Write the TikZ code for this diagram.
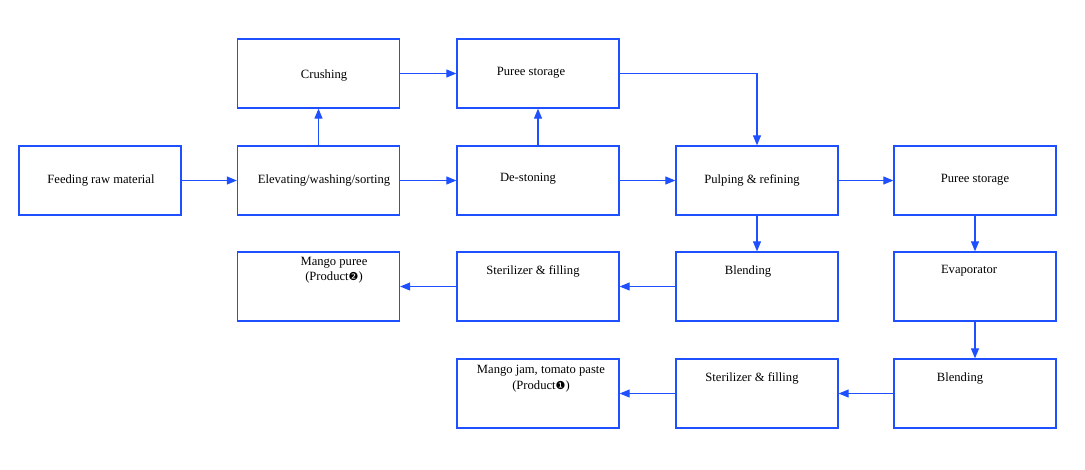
\documentclass[tikz,border=0pt]{standalone}
\usepackage{fontspec}
\setmainfont{Liberation Serif}
\newfontfamily\dingfont{DejaVu Sans}
\usetikzlibrary{arrows.meta}
\definecolor{flowblue}{RGB}{30,80,255}
\begin{document}
\begin{tikzpicture}[x=1pt,y=-1pt,
  box/.style={draw=flowblue,line width=1.3pt,minimum width=162pt,minimum height=69pt,inner sep=0pt,anchor=center},
  lbl/.style={font=\fontsize{12.6}{15.5}\selectfont,inner sep=0pt,align=center},
  flow/.style={draw=flowblue,line width=1.1pt,-{Triangle[length=10pt,width=8pt]}}]
\useasboundingbox (0,0) rectangle (1085,469);
% boxes
\node[box] (feed) at (100,180.5) {};
\node[box] (elev) at (318.5,180.5) {};
\node[box] (crush) at (318.5,73.5) {};
\node[box] (ps1) at (538,73.5) {};
\node[box] (dest) at (538,180.5) {};
\node[box] (pulp) at (757,180.5) {};
\node[box] (ps2) at (975,180.5) {};
\node[box] (mp) at (318.5,286.5) {};
\node[box] (ster1) at (538,286.5) {};
\node[box] (blend1) at (757,286.5) {};
\node[box] (evap) at (975,286.5) {};
\node[box] (mj) at (538,393.5) {};
\node[box] (ster2) at (757,393.5) {};
\node[box] (blend2) at (975,393.5) {};
% labels
\node[lbl] (tfeed) at (101,180) {Feeding raw material};
\node[lbl] (telev) at (324,180) {Elevating/washing/sorting};
\node[lbl] (tcrush) at (324,75) {Crushing};
\node[lbl] (tps1) at (531,73) {Puree storage};
\node[lbl] (tdest) at (528,179) {De-stoning};
\node[lbl] (tpulp) at (752,180) {Pulping \& refining};
\node[lbl] (tps2) at (975,180) {Puree storage};
\node[lbl,anchor=north] (tmp) at (334,257) {Mango puree\\(Product{\dingfont\fontsize{11}{13}\selectfont ❷})};
\node[lbl] (tster1) at (533,271) {Sterilizer \& filling};
\node[lbl] (tblend1) at (748,271) {Blending};
\node[lbl] (tevap) at (969,271) {Evaporator};
\node[lbl,anchor=north] (tmj) at (541,365) {Mango jam, tomato paste\\(Product{\dingfont\fontsize{11}{13}\selectfont ❶})};
\node[lbl] (tster2) at (752,378) {Sterilizer \& filling};
\node[lbl] (tblend2) at (960,378) {Blending};
% connectors
\draw[flow] (feed.east) -- (elev.west);
\draw[flow] (elev.east) -- (dest.west);
\draw[flow] (elev.north) -- (crush.south);
\draw[flow] (crush.east) -- (ps1.west);
\draw[flow] (dest.north) -- (ps1.south);
\draw[flow] (ps1.east) -| (pulp.north);
\draw[flow] (dest.east) -- (pulp.west);
\draw[flow] (pulp.east) -- (ps2.west);
\draw[flow] (pulp.south) -- (blend1.north);
\draw[flow] (ps2.south) -- (evap.north);
\draw[flow] (blend1.west) -- (ster1.east);
\draw[flow] (ster1.west) -- (mp.east);
\draw[flow] (evap.south) -- (blend2.north);
\draw[flow] (blend2.west) -- (ster2.east);
\draw[flow] (ster2.west) -- (mj.east);
\end{tikzpicture}
\end{document}
